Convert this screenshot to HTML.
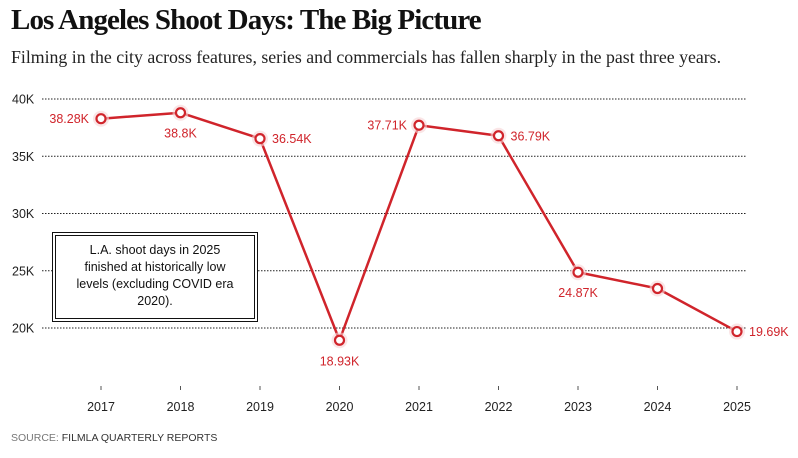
<!DOCTYPE html>
<html><head><meta charset="utf-8"><style>
body{margin:0;background:#fff;width:798px;height:458px;overflow:hidden;font-family:"Liberation Sans",sans-serif}
h1{position:absolute;left:11px;top:4px;margin:0;font-family:"Liberation Serif",serif;font-size:29px;font-weight:bold;letter-spacing:-0.9px;color:#111}
.sub{position:absolute;left:11px;top:47px;font-family:"Liberation Serif",serif;font-size:17.8px;color:#222}
.src{position:absolute;left:11px;top:432px;font-size:10.5px;color:#333}
.src span{color:#777}
.note{position:absolute;left:52px;top:232px;width:200px;height:84px;border:1px solid #111;padding:2px;background:#fff}
.note div{border:1.5px solid #111;height:100%;box-sizing:border-box;text-align:center;font-size:12.5px;line-height:17px;padding-top:6px;color:#111}
</style></head><body>
<h1>Los Angeles Shoot Days: The Big Picture</h1>
<div class="sub">Filming in the city across features, series and commercials has fallen sharply in the past three years.</div>
<svg id="c" width="798" height="458" style="position:absolute;left:0;top:0"></svg>
<div class="note"><div>L.A. shoot days in 2025<br>finished at historically low<br>levels (excluding COVID era<br>2020).</div></div>
<div class="src"><span>SOURCE:</span> FILMLA QUARTERLY REPORTS</div>
<script>
const years=["2017","2018","2019","2020","2021","2022","2023","2024","2025"];
const values=[38.28,38.8,36.54,18.93,37.71,36.79,24.87,23.45,19.69];
const labels=["38.28K","38.8K","36.54K","18.93K","37.71K","36.79K","24.87K","","19.69K"];
const yTicks=[20,25,30,35,40];
const labelPos=["left","below","right","below","left","right","below","none","right"];
const NS="http://www.w3.org/2000/svg",svg=document.getElementById('c');
const x=i=>101+i*79.5, y=v=>328-(v-20)*11.45;
function mk(t,a,p){const e=document.createElementNS(NS,t);for(const k in a)e.setAttribute(k,a[k]);(p||svg).appendChild(e);return e;}
yTicks.forEach(t=>{
 const l=mk('line',{x1:42,x2:746,y1:y(t),y2:y(t),stroke:'#222','stroke-width':1,'stroke-dasharray':'1.5,1.5'});
 
 
 const tx=mk('text',{x:12,y:y(t)+4.5,'font-size':12.5,fill:'#222','font-family':'Liberation Sans'});tx.textContent=t+'K';
 
 
});
years.forEach((yr,i)=>{
 mk('line',{x1:x(i),x2:x(i),y1:386,y2:390,stroke:'#555'});
 const t=mk('text',{x:x(i),y:411,'font-size':12.5,fill:'#222','text-anchor':'middle'});t.textContent=yr;
 
 
});
const ln=mk('polyline',{points:values.map((v,i)=>x(i)+','+y(v)).join(' '),fill:'none',stroke:'#d0242b','stroke-width':2.5,'stroke-linejoin':'round'});


values.forEach((v,i)=>{
 mk('circle',{cx:x(i),cy:y(v),r:8,fill:'#f6d4d5',opacity:0.6});
 const c=mk('circle',{cx:x(i),cy:y(v),r:4.5,fill:'#fff',stroke:'#d0242b','stroke-width':2.2});
 
 
 const p=labelPos[i];if(p==='none')return;
 let a={x:x(i),y:y(v)+4.5,'font-size':12.5,fill:'#d0242b','text-anchor':'middle'};
 if(p==='left'){a.x=x(i)-12;a['text-anchor']='end';}
 if(p==='right'){a.x=x(i)+12;a['text-anchor']='start';}
 if(p==='below'){a.y=y(v)+25;}
 const t=mk('text',a);t.textContent=labels[i];
 
 
});
</script>
</body></html>
